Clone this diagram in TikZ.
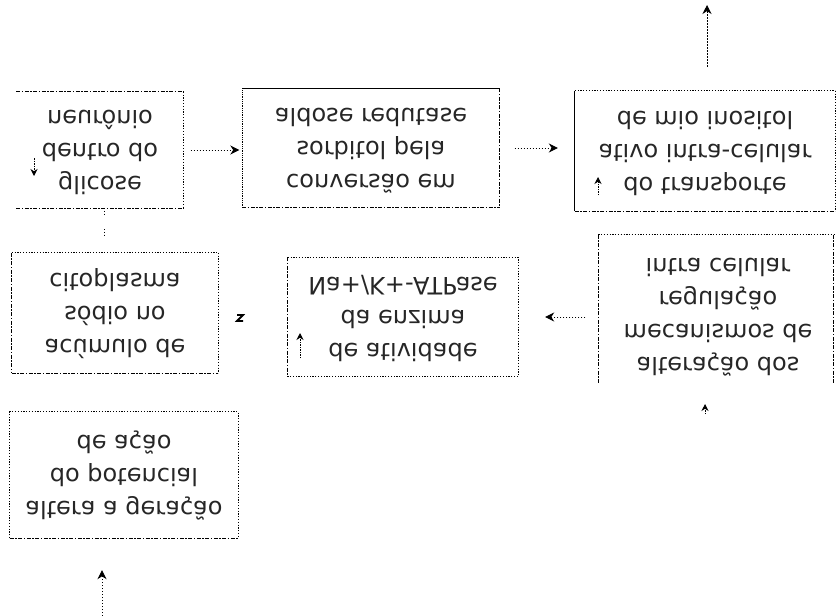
\documentclass[tikz,border=0pt]{standalone}
\usepackage{fontspec}
\setmainfont{DejaVu Sans}
\usepackage{graphicx}
\usetikzlibrary{arrows.meta}
\newcommand\fliptext[1]{\scalebox{1}[-1]{\fontsize{24}{33}\selectfont\begin{tabular}{@{}c@{}}#1\end{tabular}}}
\tikzset{
  boxnode/.style={inner sep=0pt, align=center, text=black!85},
  dotln/.style={line width=0.9pt, dash pattern=on 1.2pt off 1.6pt},
  densedot/.style={line width=1.1pt, dash pattern=on 1pt off 0.8pt},
  dashln/.style={line width=0.9pt, dash pattern=on 4pt off 1.5pt on 1.5pt off 1.5pt},
  solidln/.style={line width=1.1pt},
  conn/.style={line width=0.9pt, dash pattern=on 1.5pt off 1.5pt, -{Stealth[length=9pt,width=9pt]}},
  tinyarr/.style={line width=0.9pt, dash pattern=on 1.5pt off 1pt, -{Stealth[length=7pt,width=7pt]}},
}
\begin{document}
\begin{tikzpicture}[x=1pt,y=-1pt]
\useasboundingbox (0,0) rectangle (836,616);

% boxes (text vertically mirrored as in the reference)
\node[boxnode, minimum width=167pt, minimum height=116pt] (b1) at (100,150)
  {\fliptext{glicose\\dentro do\\neurônio}};
\node[boxnode, minimum width=257pt, minimum height=119pt] (b2) at (371,148)
  {\fliptext{conversão em\\sorbitol pela\\aldose redutase}};
\node[boxnode, minimum width=260pt, minimum height=120pt] (b3) at (705,151)
  {\fliptext{do transporte\\ativo intra-celular\\de mio inositol}};
\node[boxnode, minimum width=206pt, minimum height=120pt] (b4) at (115,313)
  {\fliptext{acúmulo de\\sódio no\\citoplasma}};
\node[boxnode, minimum width=230pt, minimum height=119pt] (b5) at (403,317)
  {\fliptext{de atividade\\da enzima\\Na+/K+-ATPase}};
\node[boxnode, minimum width=235pt, minimum height=148pt] (b6) at (716,309) {};
\node[boxnode] (t6) at (718,315)
  {\fliptext{alteração dos\\mecanismos de\\regulação\\intra celular}};
\node[boxnode, minimum width=228pt, minimum height=126pt] (b7) at (124,475)
  {\fliptext{altera a geração\\do potencial\\de ação}};

% box 1 (no left side)
\draw[dashln] (b1.north west) -- (b1.north east);
\draw[dotln] (b1.north east) -- (b1.south east);
\draw[dashln] (b1.south west) -- (b1.south east);
% box 2
\draw[solidln] (b2.north west) -- (b2.north east);
\draw[densedot] (b2.north west) -- (b2.south west);
\draw[dashln] (b2.north east) -- (b2.south east);
\draw[dashln] (b2.south west) -- (b2.south east);
% box 3
\draw[solidln] (b3.north west) -- (b3.south west);
\draw[dotln] (b3.north west) -- (b3.north east);
\draw[dotln] (b3.north east) -- (b3.south east);
\draw[dashln] (b3.south west) -- (b3.south east);
% box 4
\draw[dotln] (b4.north west) -- (b4.north east);
\draw[dashln] (b4.north west) -- (b4.south west);
\draw[dotln] (b4.north east) -- (b4.south east);
\draw[dashln] (b4.south west) -- (b4.south east);
% box 5
\draw[dotln] (b5.north west) -- (b5.north east) -- (b5.south east) -- (b5.south west);
\draw[dashln] (b5.north west) -- (b5.south west);
% box 6 (open at the bottom)
\draw[dotln] (b6.north west) -- (b6.north east);
\draw[dashln] (b6.north west) -- (b6.south west);
\draw[dashln] (b6.north east) -- (b6.south east);
% box 7
\draw[dotln] (b7.south west) -- (b7.north west) -- (b7.north east) -- (b7.south east);
\draw[dashln] (b7.south west) -- (b7.south east);

% connectors
\draw[conn, shorten <=7pt, shorten >=3pt] (b1.east) -- (b1.east -| b2.west);
\draw[conn, shorten <=15pt, shorten >=17pt] (b2.east) -- (b2.east -| b3.west);
\coordinate (top) at (707,5);
\draw[conn, shorten <=24pt] (top |- b3.north) -- (top);
\draw[conn, shorten <=13pt, shorten >=27pt] (b5.east -| b6.west) -- (b5.east);
\coordinate (bot) at (102,616);
\draw[conn, shorten >=32pt] (bot) -- (bot |- b7.south);
\coordinate (tipA) at (705,404);
\coordinate (tipB) at (705,414);
\draw[tinyarr] (tipB) -- (tipA);
\coordinate (z1) at (240,318);
\draw[line width=1.8pt] ([shift={(-3,-3)}]z1) -- ([shift={(3,-3)}]z1) -- ([shift={(-3,3)}]z1) -- ([shift={(3,3)}]z1);
\draw[dotln] (104,208) -- (104,216);
\draw[dotln] (104,229) -- (104,236);

% small arrows inside boxes
\coordinate (s1a) at (34,158); \coordinate (s1b) at (34,176);
\draw[tinyarr] (s1a) -- (s1b);
\coordinate (s3a) at (598,195); \coordinate (s3b) at (598,177);
\draw[tinyarr] (s3a) -- (s3b);
\coordinate (s5a) at (300,358); \coordinate (s5b) at (300,333);
\draw[tinyarr] (s5a) -- (s5b);
\end{tikzpicture}
\end{document}
